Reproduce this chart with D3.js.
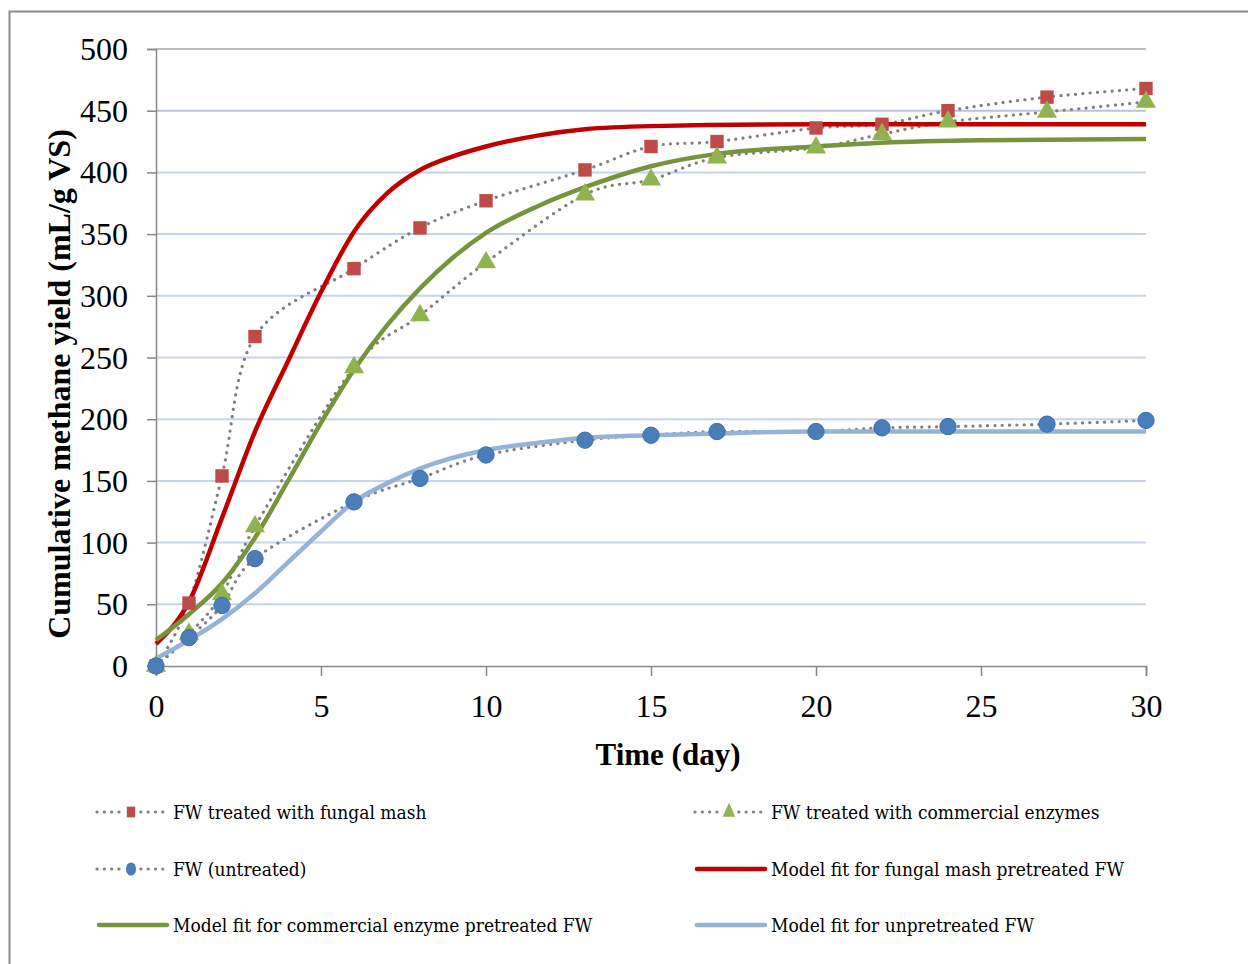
<!DOCTYPE html>
<html>
<head>
<meta charset="utf-8">
<script src="https://cdn.jsdelivr.net/npm/d3@7"></script>
<style>
html,body{margin:0;padding:0;background:#fff;}
svg{display:block;}
</style>
</head>
<body>
<script>
// ---- Data ----
const days = [0, 1, 2, 3, 6, 8, 10, 13, 15, 17, 20, 22, 24, 27, 30];
const fungalMash = [0, 51, 154, 267, 322, 355, 377, 402, 421, 425, 436, 439, 450, 461, 468];
const commercialEnzymes = [0, 26, 58, 113, 242, 284, 327, 382, 394, 412, 420, 431, 441, 449, 457];
const untreated = [0, 23, 49, 87, 133, 152, 171, 183, 187, 190, 190, 193, 194, 196, 199];

const modelFungalDays = [0, 1, 2, 3, 4, 5, 6, 7, 8, 9, 10, 11.6, 13, 15, 20, 25, 30];
const modelFungal = [18, 52, 120, 190, 247, 303, 352, 383, 402, 413, 421, 430, 435, 437.5, 439, 439, 439];
const modelEnzymeDays = [0, 1, 2, 3, 4, 5, 6, 7, 8, 9, 10, 11.6, 13, 15, 17, 20, 22, 25, 30];
const modelEnzyme = [21, 42, 67, 104, 150, 197, 240, 276, 306, 331, 351, 373, 388, 405, 415, 421, 424, 426, 427];
const modelUntreatedDays = [0, 1, 2, 3, 4, 5, 6, 7, 8, 10, 11.6, 13, 15, 17, 20, 25, 30];
const modelUntreated = [6, 21, 38, 59, 84, 109, 133, 148, 160, 175, 181, 185, 187, 188.5, 190, 190, 190];

const xTicks = [0, 5, 10, 15, 20, 25, 30];
const yTicks = [0, 50, 100, 150, 200, 250, 300, 350, 400, 450, 500];

const legendLabels = [
  "FW treated with fungal mash",
  "FW treated with commercial enzymes",
  "FW (untreated)",
  "Model fit for fungal mash pretreated FW",
  "Model fit for commercial enzyme pretreated FW",
  "Model fit for unpretreated FW"
];

// ---- Layout ----
const W = 1248, H = 964;
const svg = d3.select("body").append("svg").attr("width", W).attr("height", H);

svg.append("rect").attr("x", 9.5).attr("y", 11.5).attr("width", W + 20).attr("height", H + 20)
  .attr("fill", "#fff").attr("stroke", "#8c8c8c").attr("stroke-width", 2);

const x = d3.scaleLinear().domain([0, 30]).range([156, 1146]);
const y = d3.scaleLinear().domain([0, 500]).range([666, 49]);

// gridlines
svg.append("g").selectAll("line").data(yTicks.filter(d => d > 0)).join("line")
  .attr("x1", x(0)).attr("x2", x(30))
  .attr("y1", d => y(d)).attr("y2", d => y(d))
  .attr("stroke", d => d === 500 ? "#bdbdbd" : (d === 450 ? "#bcc4d2" : "#c5d4ea"))
  .attr("stroke-width", 2);

// axes
const serif = "'Liberation Serif', 'Times New Roman', serif";
const yAxis = svg.append("g").attr("transform", `translate(${x(0)},0)`)
  .call(d3.axisLeft(y).tickValues(yTicks).tickSize(9).tickPadding(19).tickFormat(d3.format("d")));
const xAxis = svg.append("g").attr("transform", `translate(0,${y(0)})`)
  .call(d3.axisBottom(x).tickValues(xTicks).tickSize(10).tickPadding(18).tickFormat(d3.format("d")));
[yAxis, xAxis].forEach(g => {
  g.select(".domain").attr("stroke", "#868686").attr("stroke-width", 1.5);
  g.selectAll(".tick line").attr("stroke", "#868686").attr("stroke-width", 1.5);
  g.selectAll("text").attr("font-family", serif).attr("font-size", 32).attr("fill", "#000");
});
yAxis.selectAll(".tick text").attr("dy", "0.33em");

// axis titles
svg.append("text").attr("x", 668).attr("y", 765).attr("text-anchor", "middle")
  .attr("font-family", serif).attr("font-weight", "bold").attr("font-size", 31)
  .attr("fill", "#000").text("Time (day)");
svg.append("text").attr("transform", "translate(70,384) rotate(-90)").attr("text-anchor", "middle")
  .attr("font-family", serif).attr("font-weight", "bold").attr("font-size", 32)
  .attr("fill", "#000").text("Cumulative methane yield (mL/g VS)");

// ---- Series ----
const dataLine = d3.line().x(d => x(d[0])).y(d => y(d[1])).curve(d3.curveCatmullRom.alpha(0));
const modelLine = d3.line().x(d => x(d[0])).y(d => y(d[1])).curve(d3.curveMonotoneX);

const zip = (a, b) => a.map((v, i) => [v, b[i]]);

const dotStyle = sel => sel.attr("fill", "none").attr("stroke", "#808080").attr("stroke-width", 3.2)
  .attr("stroke-linecap", "round").attr("stroke-dasharray", "0.1 7.2");

const COL = {
  sq: "#be4b48", tri: "#8fb34f", circ: "#4a7ebb",
  mRed: "#c00000", mGreen: "#77933c", mBlue: "#95b3d7"
};

// dotted data lines
svg.append("path").datum(zip(days, fungalMash)).attr("d", dataLine).call(dotStyle);
svg.append("path").datum(zip(days, commercialEnzymes)).attr("d", dataLine).call(dotStyle);
svg.append("path").datum(zip(days, untreated)).attr("d", dataLine).call(dotStyle);

// model fits
svg.append("path").datum(zip(modelFungalDays, modelFungal)).attr("d", modelLine)
  .attr("fill", "none").attr("stroke", COL.mRed).attr("stroke-width", 4.5);
svg.append("path").datum(zip(modelEnzymeDays, modelEnzyme)).attr("d", modelLine)
  .attr("fill", "none").attr("stroke", COL.mGreen).attr("stroke-width", 4.5);
svg.append("path").datum(zip(modelUntreatedDays, modelUntreated)).attr("d", modelLine)
  .attr("fill", "none").attr("stroke", COL.mBlue).attr("stroke-width", 4.5);

// markers
const sqSym = d3.symbol().type(d3.symbolSquare).size(180);
const triSym = d3.symbol().type(d3.symbolTriangle).size(175);
const circSym = d3.symbol().type(d3.symbolCircle).size(210);

svg.append("g").selectAll("path").data(zip(days, fungalMash)).join("path")
  .attr("transform", d => `translate(${x(d[0])},${y(d[1])})`).attr("d", sqSym).attr("fill", COL.sq);
svg.append("g").selectAll("path").data(zip(days, commercialEnzymes)).join("path")
  .attr("transform", d => `translate(${x(d[0])},${y(d[1])})`).attr("d", triSym).attr("fill", COL.tri);
svg.append("g").selectAll("path").data(zip(days, untreated)).join("path")
  .attr("transform", d => `translate(${x(d[0])},${y(d[1])})`).attr("d", circSym).attr("fill", COL.circ)
  .attr("stroke", "#3f6fa8").attr("stroke-width", 1);

// ---- Legend ----
const legendFont = "'DejaVu Serif Condensed', 'DejaVu Serif', serif";
const legendItems = [
  {label: legendLabels[0], type: "data", sym: sqSym, color: COL.sq, col: 0, row: 0},
  {label: legendLabels[1], type: "data", sym: triSym, color: COL.tri, col: 1, row: 0},
  {label: legendLabels[2], type: "data", sym: circSym, color: COL.circ, col: 0, row: 1},
  {label: legendLabels[3], type: "model", color: COL.mRed, col: 1, row: 1},
  {label: legendLabels[4], type: "model", color: COL.mGreen, col: 0, row: 2},
  {label: legendLabels[5], type: "model", color: COL.mBlue, col: 1, row: 2}
];
const colX = [97, 695];
const rowY = [812, 869, 925];
const lg = svg.append("g");
legendItems.forEach(it => {
  const g = lg.append("g").attr("transform", `translate(${colX[it.col]},${rowY[it.row]})`);
  if (it.type === "data") {
    g.append("line").attr("x1", 0).attr("x2", 68).attr("y1", 0).attr("y2", 0).call(dotStyle);
    g.append("rect").attr("x", 27).attr("y", -7).attr("width", 14).attr("height", 14).attr("fill", "#fff");
    g.append("path").attr("transform", "translate(34,0) scale(0.62,0.8)").attr("d", it.sym).attr("fill", it.color);
  } else {
    g.append("line").attr("x1", 2).attr("x2", 70).attr("y1", 0).attr("y2", 0)
      .attr("stroke", it.color).attr("stroke-width", 4.5).attr("stroke-linecap", "round");
  }
  g.append("text").attr("x", 76).attr("y", 0).attr("dy", "0.35em")
    .attr("font-family", legendFont).attr("font-size", 19).attr("fill", "#000").text(it.label);
});
</script>
</body>
</html>
